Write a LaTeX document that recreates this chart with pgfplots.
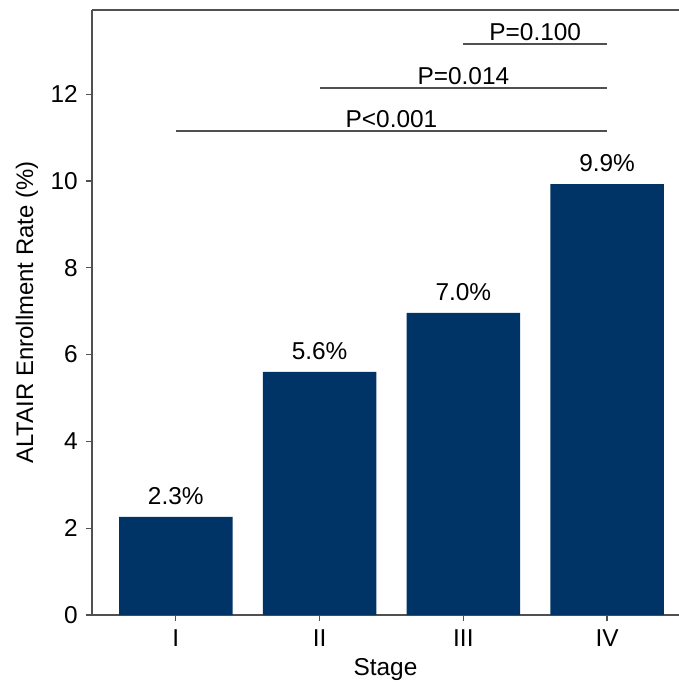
\documentclass[border=0pt]{standalone}
\usepackage{pgfplots}
\pgfplotsset{compat=1.18}
\usepackage{fontspec}
\setmainfont{Liberation Sans}
\definecolor{navy}{RGB}{0,51,102}
\definecolor{axgray}{RGB}{80,80,80}
\newcommand{\fs}{\fontsize{24.5}{29}\selectfont}
\begin{document}
\begin{tikzpicture}
\fs
\begin{axis}[
  scale only axis,
  width=587bp, height=605bp,
  xmin=-0.583, xmax=3.5,
  ymin=0, ymax=13.94,
  axis x line*=bottom, axis y line*=left,
  axis line style={axgray, line width=1.6pt},
  every tick/.style={axgray, line width=1.3pt},
  tick align=outside, major tick length=6bp,
  xtick={0,1,2,3}, xticklabels={I,II,III,IV},
  ytick={0,2,4,6,8,10,12},
  /pgf/number format/assume math mode=true,
  tick label style={font=\fs},
  label style={font=\fs},
  xlabel={Stage}, ylabel={ALTAIR Enrollment Rate (\%)},
  xlabel style={yshift=4bp},
  ylabel style={yshift=-4bp, font=\fontsize{24}{29}\selectfont},
  clip=false,
]
\addplot[ybar, bar width=0.79, fill=navy, draw=none,
  nodes near coords, point meta=explicit symbolic,
  nodes near coords style={font=\fs, black, anchor=south, yshift=4bp}]
  table[meta=lab] {
x y lab
0 2.26 2.3\%
1 5.60 5.6\%
2 6.96 7.0\%
3 9.93 9.9\%
};
\draw[axgray, line width=1.6pt] (rel axis cs:0,1) -- (rel axis cs:1,1);
\draw[axgray, line width=1.6pt] (axis cs:0,11.15) -- (axis cs:3,11.15);
\draw[axgray, line width=1.6pt] (axis cs:1,12.14) -- (axis cs:3,12.14);
\draw[axgray, line width=1.6pt] (axis cs:2,13.16) -- (axis cs:3,13.16);
\node[anchor=south, inner sep=3bp, font=\fs] at (axis cs:1.5,11.15) {P<0.001};
\node[anchor=south, inner sep=3bp, font=\fs] at (axis cs:2,12.14) {P=0.014};
\node[anchor=south, inner sep=3bp, font=\fs] at (axis cs:2.5,13.16) {P=0.100};
\end{axis}
\pgfresetboundingbox
\useasboundingbox (current axis.south west) ++(-92bp,-67bp) rectangle ++(679bp,682bp);
\end{tikzpicture}
\end{document}
